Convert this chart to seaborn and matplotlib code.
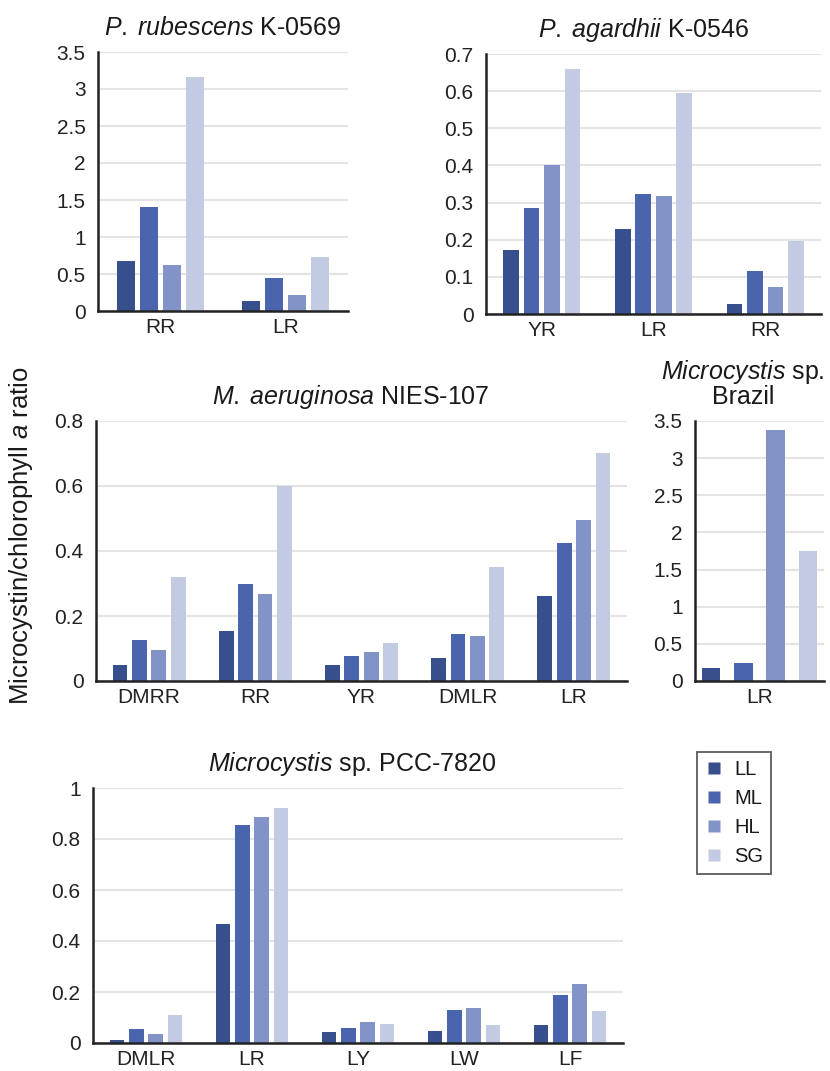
import numpy as np
import pandas as pd
import matplotlib
matplotlib.use("Agg")
import matplotlib.pyplot as plt
from matplotlib.lines import Line2D
import seaborn as sns

sns.set_theme(style="white")
plt.rcParams['font.family'] = ['Liberation Sans', 'DejaVu Sans']
plt.rcParams['mathtext.fontset'] = 'custom'
plt.rcParams['mathtext.rm'] = 'Liberation Sans'
plt.rcParams['mathtext.it'] = 'Liberation Sans:italic'

conditions = ["LL", "ML", "HL", "SG"]
colors = ["#374f8c", "#4a65ad", "#8293c8", "#c3cbe3"]

# Panel 1: P. rubescens K-0569
p1_cats = ["RR", "LR"]
p1_LL = [0.675, 0.13]
p1_ML = [1.40, 0.45]
p1_HL = [0.62, 0.21]
p1_SG = [3.16, 0.73]

# Panel 2: P. agardhii K-0546
p2_cats = ["YR", "LR", "RR"]
p2_LL = [0.171, 0.228, 0.028]
p2_ML = [0.285, 0.323, 0.116]
p2_HL = [0.400, 0.318, 0.073]
p2_SG = [0.660, 0.595, 0.197]

# Panel 3: M. aeruginosa NIES-107
p3_cats = ["DMRR", "RR", "YR", "DMLR", "LR"]
p3_LL = [0.048, 0.153, 0.050, 0.071, 0.261]
p3_ML = [0.125, 0.297, 0.078, 0.144, 0.425]
p3_HL = [0.096, 0.267, 0.088, 0.138, 0.494]
p3_SG = [0.320, 0.600, 0.117, 0.350, 0.703]

# Panel 4: Microcystis sp. Brazil
p4_cats = ["LR"]
p4_LL = [0.18]
p4_ML = [0.236]
p4_HL = [3.38]
p4_SG = [1.75]

# Panel 5: Microcystis sp. PCC-7820
p5_cats = ["DMLR", "LR", "LY", "LW", "LF"]
p5_LL = [0.013, 0.467, 0.044, 0.046, 0.070]
p5_ML = [0.054, 0.856, 0.060, 0.128, 0.190]
p5_HL = [0.037, 0.886, 0.081, 0.136, 0.232]
p5_SG = [0.108, 0.922, 0.076, 0.069, 0.125]


def long_df(cats, ll, ml, hl, sg):
    rows = []
    for cond, vals in zip(conditions, [ll, ml, hl, sg]):
        for c, v in zip(cats, vals):
            rows.append({"cat": c, "cond": cond, "val": v})
    return pd.DataFrame(rows)


W, H = 830, 1071
fig = plt.figure(figsize=(W / 100, H / 100), dpi=100)


def add_ax(left, right, top, bottom):
    return fig.add_axes([left / W, 1 - bottom / H, (right - left) / W, (bottom - top) / H])


def draw(ax, df, cats, ymax, step, title, width=0.73, gap=0.23, title_x=0.5):
    sns.barplot(data=df, x="cat", y="val", hue="cond", order=cats, hue_order=conditions,
                palette=colors, width=width, gap=gap, ax=ax, legend=False,
                edgecolor="none", linewidth=0, saturation=1)
    ax.set_ylim(0, ymax)
    ax.set_xlim(-0.5, len(cats) - 0.5)
    ticks = np.arange(0, ymax + step / 2, step)
    ax.set_yticks(ticks)
    ax.set_yticklabels([f"{t:g}" for t in ticks])
    ax.yaxis.grid(True, color="#e4e4e4", linewidth=1.5)
    ax.set_axisbelow(True)
    for s in ["top", "right"]:
        ax.spines[s].set_visible(False)
    for s in ["left", "bottom"]:
        ax.spines[s].set_color("#222222")
        ax.spines[s].set_linewidth(1.8)
    ax.tick_params(axis="both", length=0, labelsize=15, colors="#222222")
    ax.tick_params(axis="y", pad=9)
    ax.tick_params(axis="x", pad=5)
    ax.set_xlabel("")
    ax.set_ylabel("")
    ax.set_title(title, fontsize=18, pad=12, color="#1a1a1a", x=title_x)


ax1 = add_ax(98, 348, 52, 311)
draw(ax1, long_df(p1_cats, p1_LL, p1_ML, p1_HL, p1_SG), p1_cats, 3.5, 0.5,
     r"$\mathit{P.\;rubescens}$ K-0569")

ax2 = add_ax(486, 821, 54, 314)
draw(ax2, long_df(p2_cats, p2_LL, p2_ML, p2_HL, p2_SG), p2_cats, 0.7, 0.1,
     r"$\mathit{P.\;agardhii}$ K-0546", title_x=0.47)

ax3 = add_ax(96, 627, 421, 681)
draw(ax3, long_df(p3_cats, p3_LL, p3_ML, p3_HL, p3_SG), p3_cats, 0.8, 0.2,
     r"$\mathit{M.\;aeruginosa}$ NIES-107", title_x=0.48)

ax4 = add_ax(695, 824, 421, 681)
draw(ax4, long_df(p4_cats, p4_LL, p4_ML, p4_HL, p4_SG), p4_cats, 3.5, 0.5,
     "$\\mathit{Microcystis}$ sp.\nBrazil", width=1.0, gap=0.42, title_x=0.37)
ax4.title.set_linespacing(0.95)

ax5 = add_ax(93, 623, 788, 1043)
draw(ax5, long_df(p5_cats, p5_LL, p5_ML, p5_HL, p5_SG), p5_cats, 1.0, 0.2,
     r"$\mathit{Microcystis}$ sp. PCC-7820", title_x=0.49)

fig.text(21 / W, 1 - 536 / H, r"Microcystin/chlorophyll $\mathit{a}$ ratio",
         rotation=90, ha="center", va="center", fontsize=18.5, color="#1a1a1a")

handles = [Line2D([0], [0], marker="s", linestyle="none", markersize=9,
                  markerfacecolor=c, markeredgecolor="none") for c in colors]
leg = fig.legend(handles, conditions, loc="upper left",
                 bbox_to_anchor=(697 / W, 1 - 752 / H), frameon=True, fancybox=False,
                 fontsize=14.5, handlelength=0.9, handletextpad=0.55, labelspacing=0.5,
                 borderpad=0.4, borderaxespad=0)
leg.get_frame().set_edgecolor("#333333")
leg.get_frame().set_linewidth(1.3)
for t in leg.get_texts():
    t.set_color("#1a1a1a")

fig.savefig("out.png", dpi=100)
